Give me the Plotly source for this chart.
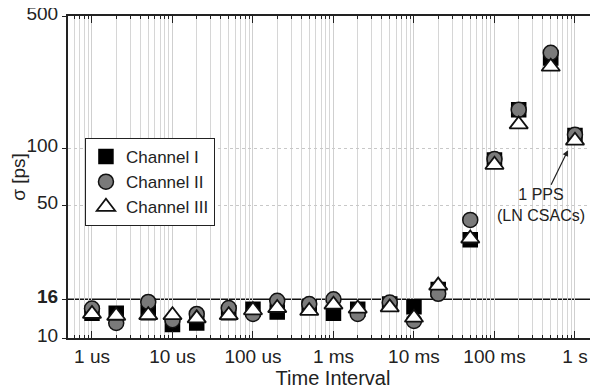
import math
import plotly.graph_objects as go

# ---- data ----
intervals = [1e-6, 2e-6, 5e-6, 1e-5, 2e-5, 5e-5, 1e-4, 2e-4, 5e-4,
             1e-3, 2e-3, 5e-3, 1e-2, 2e-2, 5e-2, 0.1, 0.2, 0.5, 1.0]
channel_1 = [13.5, 13.5, 13.6, 11.8, 12.0, 13.6, 14.2, 13.7, 14.6,
             13.5, 14.2, 15.1, 14.6, 18.0, 33.0, 87.0, 160.0, 300.0, 117.0]
channel_2 = [14.3, 12.0, 15.5, 12.4, 13.4, 14.4, 13.4, 15.7, 15.1,
             16.0, 13.4, 15.4, 12.3, 17.1, 42.0, 88.0, 160.0, 320.0, 118.0]
channel_3 = [13.4, 13.1, 13.2, 13.2, 12.7, 13.2, 14.0, 14.4, 13.9,
             15.0, 14.3, 14.5, 12.8, 18.9, 33.5, 82.0, 134.0, 270.0, 110.0]
series_names = ["Channel I", "Channel II", "Channel III"]

x_tickvals = [1e-6, 1e-5, 1e-4, 1e-3, 1e-2, 1e-1, 1.0]
x_ticktext = ["1 us", "10 us", "100 us", "1 ms", "10 ms", "100 ms", "1 s"]
y_tickvals = [10, 16, 50, 100, 500]
y_ticktext = ["10", "<b>16</b>", "50", "100", "500"]
y_grid_vals = [50, 100]
threshold = 16
annot_point = (0.82, 98)
annot_text = "1 PPS<br>(LN CSACs)"

minor_vals = [m * 10.0 ** e for e in range(-7, 1) for m in range(2, 10)]

FONT = "Liberation Sans, Arial, sans-serif"
TXT = "#222222"

fig = go.Figure()

styles = [
    dict(symbol="square", size=14, color="#000000", line=dict(color="#000000", width=1.5)),
    dict(symbol="circle", size=15, color="#7a7a7a", line=dict(color="#111111", width=1.5)),
    dict(symbol="triangle-up", size=16, color="#ffffff", line=dict(color="#111111", width=1.8)),
]
for name, vals, st in zip(series_names, [channel_1, channel_2, channel_3], styles):
    fig.add_trace(go.Scatter(x=intervals, y=vals, mode="markers", name=name,
                             marker=st, cliponaxis=False))

fig.add_shape(type="line", xref="paper", x0=0, x1=1, yref="y", y0=threshold, y1=threshold,
              line=dict(color="#111111", width=1.5), layer="between")

fig.add_annotation(x=math.log10(annot_point[0]), y=math.log10(annot_point[1]), xref="x", yref="y",
                   text=annot_text, showarrow=True, arrowhead=2, arrowsize=1,
                   arrowwidth=1.2, arrowcolor="#222222", ax=-27, ay=55,
                   font=dict(family=FONT, size=16, color=TXT), bgcolor="rgba(0,0,0,0)")

# page body has an 8px margin: figure is shifted by (8, 8)
fig.update_layout(
    width=590, height=384,
    margin=dict(l=60, r=0, t=8, b=54),
    paper_bgcolor="white", plot_bgcolor="white",
    font=dict(family=FONT, color=TXT, size=19),
    showlegend=True,
    legend=dict(x=0.032, y=0.621, xanchor="left", yanchor="top",
                bgcolor="white", bordercolor="#222222", borderwidth=1,
                font=dict(family=FONT, size=17, color=TXT)),
    xaxis=dict(type="log", range=[-6.298, 0.286], automargin=False,
               tickmode="array", tickvals=x_tickvals, ticktext=x_ticktext,
               ticks="inside", ticklen=7, tickcolor="#222222",
               showline=True, linecolor="#222222", linewidth=2, mirror="ticks",
               showgrid=True, gridcolor="#cfcfcf", gridwidth=1,
               ticklabeloverflow="allow",
               tickfont=dict(size=19, family=FONT, color=TXT),
               title=dict(text="Time Interval", font=dict(size=20, family=FONT, color=TXT), standoff=2),
               minor=dict(tickmode="array", tickvals=minor_vals, ticks="inside", ticklen=3,
                          tickcolor="#222222", showgrid=True, gridcolor="#d6d6d6", gridwidth=1),
               zeroline=False),
    yaxis=dict(type="log", range=[1, 2.699], automargin=False,
               tickmode="array", tickvals=y_tickvals, ticktext=y_ticktext,
               ticks="outside", ticklen=4, tickcolor="#222222",
               showline=True, linecolor="#222222", linewidth=2,
               showgrid=False, ticklabeloverflow="allow", ticklabelshift=-3,
               minor=dict(tickmode="array", tickvals=y_grid_vals, ticks="",
                          showgrid=True, gridcolor="#c8c8c8", griddash="dot", gridwidth=1),
               tickfont=dict(size=19, family=FONT, color=TXT),
               title=dict(text="σ [ps]", font=dict(size=19, family=FONT, color=TXT), standoff=4),
               zeroline=False),
)

fig.write_html("out.html")
